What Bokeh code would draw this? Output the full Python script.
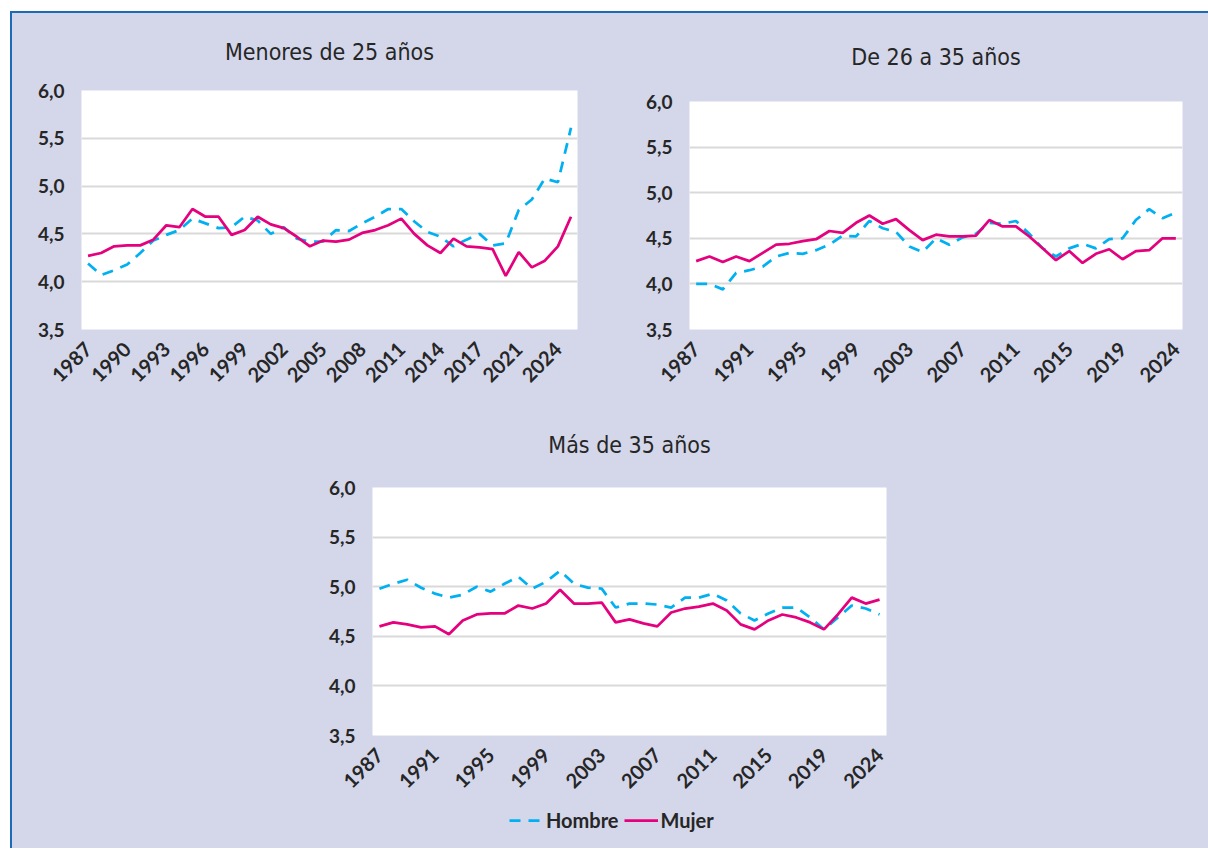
from math import pi
from bokeh.plotting import figure
from bokeh.layouts import column, row
from bokeh.models import (Range1d, FixedTicker, CustomJSTickFormatter, Legend, LegendItem, Title)
from bokeh.embed import file_html
from bokeh.resources import INLINE

# ---------------- data ----------------
years_a = [1987, 1988, 1989, 1990, 1991, 1992, 1993, 1994, 1995, 1996, 1997, 1998, 1999,
           2000, 2001, 2002, 2003, 2004, 2005, 2006, 2007, 2008, 2009, 2010, 2011, 2012,
           2013, 2014, 2015, 2016, 2017, 2018, 2019, 2021, 2022, 2023, 2024, 2025]
years_b = [1987, 1988, 1989, 1990, 1991, 1992, 1993, 1994, 1995, 1996, 1997, 1998, 1999,
           2000, 2001, 2002, 2003, 2004, 2005, 2006, 2007, 2008, 2009, 2010, 2011, 2012,
           2013, 2014, 2015, 2016, 2017, 2018, 2019, 2021, 2022, 2023, 2024]

ticks_a = ["1987", "1990", "1993", "1996", "1999", "2002", "2005", "2008", "2011",
           "2014", "2017", "2021", "2024"]
ticks_b = ["1987", "1991", "1995", "1999", "2003", "2007", "2011", "2015", "2019", "2024"]

y_ticks = [3.5, 4.0, 4.5, 5.0, 5.5, 6.0]

# Menores de 25 años
hombre_1 = [4.19, 4.07, 4.12, 4.18, 4.30, 4.43, 4.49, 4.54, 4.66, 4.61, 4.56, 4.57, 4.68,
            4.64, 4.50, 4.57, 4.45, 4.42, 4.42, 4.54, 4.53, 4.61, 4.68, 4.76, 4.76, 4.63,
            4.52, 4.47, 4.37, 4.44, 4.50, 4.38, 4.40, 4.75, 4.86, 5.08, 5.04, 5.61]
mujer_1 = [4.27, 4.30, 4.37, 4.38, 4.38, 4.44, 4.59, 4.57, 4.76, 4.68, 4.68, 4.49, 4.54,
           4.68, 4.60, 4.56, 4.47, 4.37, 4.43, 4.42, 4.44, 4.51, 4.54, 4.59, 4.66, 4.50,
           4.38, 4.30, 4.45, 4.37, 4.36, 4.34, 4.06, 4.31, 4.15, 4.22, 4.37, 4.68]

# De 26 a 35 años
hombre_2 = [4.00, 4.00, 3.94, 4.12, 4.15, 4.19, 4.30, 4.34, 4.33, 4.37, 4.43, 4.53, 4.52,
            4.69, 4.61, 4.57, 4.41, 4.35, 4.50, 4.43, 4.51, 4.55, 4.67, 4.66, 4.69, 4.55,
            4.39, 4.30, 4.39, 4.44, 4.39, 4.49, 4.50, 4.70, 4.82, 4.72, 4.78]
mujer_2 = [4.25, 4.30, 4.24, 4.30, 4.25, 4.34, 4.43, 4.44, 4.47, 4.49, 4.58, 4.56, 4.67,
           4.75, 4.66, 4.71, 4.59, 4.48, 4.54, 4.52, 4.52, 4.53, 4.70, 4.63, 4.63, 4.52,
           4.39, 4.26, 4.36, 4.23, 4.33, 4.38, 4.27, 4.36, 4.37, 4.50, 4.50]

# Más de 35 años
hombre_3 = [4.98, 5.03, 5.07, 4.99, 4.93, 4.89, 4.92, 5.00, 4.95, 5.03, 5.10, 4.98, 5.05,
            5.16, 5.03, 4.99, 4.98, 4.79, 4.83, 4.83, 4.82, 4.79, 4.89, 4.89, 4.93, 4.86,
            4.73, 4.66, 4.73, 4.79, 4.79, 4.69, 4.57, 4.69, 4.81, 4.78, 4.72]
mujer_3 = [4.60, 4.64, 4.62, 4.59, 4.60, 4.52, 4.66, 4.72, 4.73, 4.73, 4.81, 4.78, 4.83,
           4.97, 4.83, 4.83, 4.84, 4.64, 4.67, 4.63, 4.60, 4.74, 4.78, 4.80, 4.83, 4.76,
           4.62, 4.57, 4.66, 4.72, 4.69, 4.64, 4.57, 4.72, 4.89, 4.83, 4.87]

series_names = ["Hombre", "Mujer"]

# ---------------- style ----------------
BG = "#D4D7EA"
C_H = "#00B0F0"
C_M = "#E5007E"
TXT = "#262626"
LBL_FONT = "Lato"
TITLE_FONT = "DejaVu Sans Condensed, Roboto, sans-serif"
DASH = "11 8"
LW = 2.75


def make_panel(title, years, hombre, mujer, tick_labels, width, height,
               left, right, top, bottom, standoff):
    p = figure(width=width, height=height, output_backend="svg", toolbar_location=None,
               x_range=Range1d(-0.5, len(years) - 0.5), y_range=Range1d(3.5, 6.0),
               min_border_left=left, min_border_right=right,
               min_border_top=top, min_border_bottom=bottom)
    p.title = Title(text=title, align="center", vertical_align="top",
                    text_font=TITLE_FONT, text_font_size="23px",
                    text_font_style="normal", text_color=TXT, standoff=standoff)
    p.background_fill_color = "white"
    p.border_fill_color = BG
    p.outline_line_color = None

    xs = [i for i in range(len(years))]
    tick_idx = [years.index(int(t)) for t in tick_labels]

    p.xaxis.ticker = FixedTicker(ticks=tick_idx)
    p.xaxis.major_label_overrides = {i: t for i, t in zip(tick_idx, tick_labels)}
    p.xaxis.major_label_orientation = pi / 4
    p.yaxis.ticker = FixedTicker(ticks=y_ticks)
    p.yaxis.formatter = CustomJSTickFormatter(code="return tick.toFixed(1).replace('.', ',');")

    for ax in (p.xaxis[0], p.yaxis[0]):
        ax.axis_line_color = None
        ax.major_tick_line_color = None
        ax.minor_tick_line_color = None
        ax.major_tick_out = 0
        ax.major_tick_in = 0
        ax.major_label_text_font = LBL_FONT
        ax.major_label_text_font_style = "bold"
        ax.major_label_text_color = TXT
    p.xaxis.major_label_text_font_size = "20px"
    p.xaxis.major_label_standoff = 16
    p.yaxis.major_label_text_font_size = "19px"
    p.yaxis.major_label_standoff = 17

    p.xgrid.grid_line_color = None
    p.ygrid.ticker = FixedTicker(ticks=y_ticks)
    p.ygrid.grid_line_color = "#D9D9D9"
    p.ygrid.grid_line_width = 2

    p.line(xs, hombre, line_color=C_H, line_width=LW, line_dash=DASH)
    p.line(xs, mujer, line_color=C_M, line_width=LW)
    return p


p1 = make_panel("Menores de 25 años", years_a, hombre_1, mujer_1, ticks_a,
                588, 390, 69, 23, 77, 74, 48)
p2 = make_panel("De 26 a 35 años", years_b, hombre_2, mujer_2, ticks_b,
                608, 390, 89, 26, 88, 74, 60)
p3 = make_panel("Más de 35 años", years_b, hombre_3, mujer_3, ticks_b,
                1196, 397, 360, 322, 84, 65, 56)

# legend strip under the third panel (its lines are the panel's series, outside the view)
pl = figure(width=1196, height=48, output_backend="svg", toolbar_location=None,
            x_range=Range1d(100, 101), y_range=Range1d(0, 1),
            min_border=0, min_border_left=0, min_border_right=0,
            min_border_top=0, min_border_bottom=0)
pl.axis.visible = False
pl.grid.visible = False
pl.outline_line_color = None
pl.background_fill_color = BG
pl.border_fill_color = BG
lh = pl.line([i for i in range(len(years_b))], hombre_3, line_color=C_H, line_width=LW, line_dash=DASH)
lm = pl.line([i for i in range(len(years_b))], mujer_3, line_color=C_M, line_width=LW)
lg = Legend(items=[LegendItem(label=series_names[0], renderers=[lh]),
                   LegendItem(label=series_names[1], renderers=[lm])],
            orientation="horizontal", location=(497, 16),
            label_text_font=LBL_FONT, label_text_font_style="bold",
            label_text_font_size="20px", label_text_color=TXT,
            glyph_width=34, label_standoff=3, spacing=5,
            background_fill_alpha=0, border_line_color=None,
            margin=0, padding=0)
pl.add_layout(lg, "center")

layout = column(row(column(p1), column(p2)), column(p3), column(pl),
                styles={"border-top": "2px solid #1D6BB5",
                        "border-left": "2px solid #1D6BB5",
                        "background-color": BG},
                margin=(11, 0, 0, 10))

open("out.html", "w").write(file_html(layout, INLINE))
